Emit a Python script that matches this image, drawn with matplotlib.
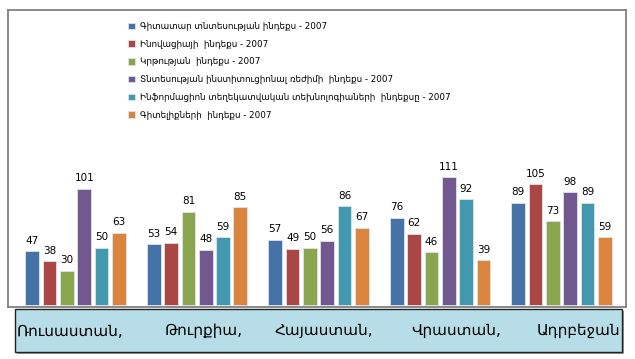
import matplotlib.pyplot as plt
import matplotlib.patches as mpatches
import numpy as np

# Données
pays = ["Ռուսաստան,", "Թուրքիա,", "Հայաստան,", "Վրաստան,", "Ադրբեջան"]
series = [
    "Գիտատար տնտեսության ինդեքս - 2007",
    "Ինովացիայի  ինդեքս - 2007",
    "Կրթության  ինդեքս - 2007",
    "Տնտեսության ինստիտուցիոնալ ռեժիմի  ինդեքս - 2007",
    "Ինֆորմացիոն տեղեկատվական տեխնոլոգիաների  ինդեքսը - 2007",
    "Գիտելիքների  ինդեքս - 2007",
]
gitatar = [47, 53, 57, 76, 89]
inovacia = [38, 54, 49, 62, 105]
krtutyun = [30, 81, 50, 46, 73]
institut = [101, 48, 56, 111, 98]
ikt = [50, 59, 86, 92, 89]
gitelik = [63, 85, 67, 39, 59]
valeurs = [gitatar, inovacia, krtutyun, institut, ikt, gitelik]

couleurs = ["#4572A7", "#AA4643", "#89A54E", "#71588F", "#4198AF", "#DB843D"]

W, H = 635, 359
fig = plt.figure(figsize=(W / 100, H / 100), dpi=100)
plt.rcParams['font.family'] = ['DejaVu Sans']

# zone du graphique (pixels -> fraction)
ax = fig.add_axes([8 / W, 1 - 307 / H, 618 / W, 297 / H])
x = np.arange(len(pays))
pas = 0.1425
larg = 0.113
for k, (vals, nom, c) in enumerate(zip(valeurs, series, couleurs)):
    pos = x + (k - 2.5) * pas
    bars = ax.bar(pos, vals, width=larg, color=c, edgecolor="#dde4ec",
                  linewidth=0.6, label=nom)
    for b, v in zip(bars, vals):
        ax.annotate(str(v), (b.get_x() + b.get_width() / 2, v),
                    xytext=(0, 4), textcoords="offset points",
                    ha="center", va="bottom", fontsize=7.5)

ax.set_xlim(-0.556, 4.53)
ax.set_ylim(-1.5, 256)
ax.set_xticks([])
ax.set_yticks([])
for s in ax.spines.values():
    s.set_color("#808080")
    s.set_linewidth(1.3)

fig.legend(loc="upper left", bbox_to_anchor=(128 / W, 1 - 22 / H),
           frameon=False, fontsize=6.3, handlelength=0.75, handleheight=0.75,
           handletextpad=0.6, labelspacing=1.0, borderpad=0, borderaxespad=0)

# boîte des pays
ombre = mpatches.Rectangle((17 / W, 1 - 354 / H), 607 / W, 43 / H,
                           transform=fig.transFigure, facecolor="#9a9a9a",
                           edgecolor="none", zorder=1)
boite = mpatches.Rectangle((15 / W, 1 - 352 / H), 607 / W, 43 / H,
                           transform=fig.transFigure, facecolor="#B7DEE8",
                           edgecolor="#222222", linewidth=1.0, zorder=2)
fig.patches.extend([ombre, boite])
pos_pays = [70, 204, 324, 456, 578]
for px, nom in zip(pos_pays, pays):
    fig.text(px / W, 1 - 331 / H, nom, ha="center", va="center",
             fontsize=11, zorder=3)

fig.savefig("out.png", dpi=100)
